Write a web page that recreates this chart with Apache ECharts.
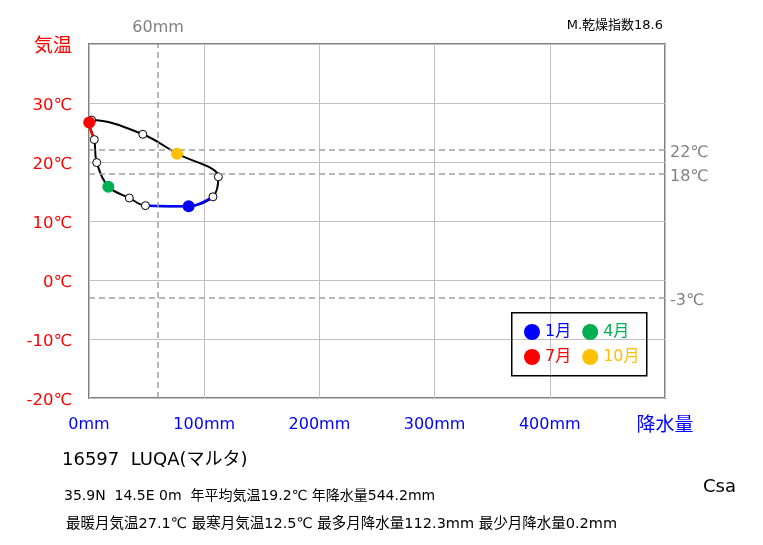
<!DOCTYPE html>
<html><head><meta charset="utf-8">
<script src="https://cdn.jsdelivr.net/npm/echarts@6/dist/echarts.min.js"></script>
<style>html,body{margin:0;padding:0;background:#fff}#c{width:763px;height:545px}</style>
</head><body><div id="c"></div>
<script>
const months = ['1月','2月','3月','4月','5月','6月','7月','8月','9月','10月','11月','12月'];
const precip = [86.5, 49.0, 35.0, 16.8, 6.7, 4.6, 0.2, 2.3, 46.7, 76.5, 112.3, 107.6];
const temp   = [12.5, 12.6, 13.9, 15.8, 19.9, 23.8, 26.7, 27.1, 24.7, 21.4, 17.5, 14.1];
const refTemps = [22, 18, -3];
const refPrecip = [60];
const keyMonths = [0, 3, 6, 9];
const keyColors = ['#0000FF', '#00B050', '#FF0000', '#FFC000'];
const winterIdx = [11, 0, 1];
const summerIdx = [5, 6, 7];
const station = '16597  LUQA(マルタ)';
const info1 = '35.9N  14.5E 0m  年平均気温19.2℃ 年降水量544.2mm';
const info2 = '最暖月気温27.1℃ 最寒月気温12.5℃ 最多月降水量112.3mm 最少月降水量0.2mm';
const aridity = 'M.乾燥指数18.6';
const climate = 'Csa';

const FONT = '"DejaVu Sans", "Noto Sans CJK JP", sans-serif';
const pt = i => [precip[i], temp[i]];
const loop = months.map((m, i) => pt(i)).concat([pt(0), pt(1)]);

const series = [];
series.push({
  type: 'line', name: 'loop', data: loop, smooth: 0.35, symbol: 'none',
  lineStyle: {color: '#000', width: 2}, z: 2, silent: true,
  markLine: {
    silent: true, symbol: 'none',
    lineStyle: {color: '#a0a0a0', type: [6, 4], width: 1.5},
    label: {position: 'end', color: '#808080', fontSize: 16, fontFamily: FONT, distance: 5},
    data: refTemps.map(t => ({yAxis: t, label: {formatter: t + '℃', offset: [0, 3]}}))
      .concat(refPrecip.map(p => ({xAxis: p, label: {formatter: p + 'mm', distance: 8}})))
  }
});
series.push({type: 'line', name: 'winter', data: winterIdx.map(pt), smooth: 0.35, symbol: 'none',
  lineStyle: {color: '#0000FF', width: 2.5}, z: 3, silent: true});
series.push({type: 'line', name: 'summer', data: summerIdx.map(pt), smooth: 0.35, symbol: 'none',
  lineStyle: {color: '#FF0000', width: 2.5}, z: 3, silent: true});
series.push({type: 'scatter', name: 'others',
  data: months.map((m, i) => i).filter(i => !keyMonths.includes(i)).map(pt),
  symbolSize: 8, itemStyle: {color: '#fff', borderColor: '#000', borderWidth: 1, opacity: 1}, z: 4});
keyMonths.forEach((mi, k) => {
  series.push({type: 'scatter', name: months[mi], data: [pt(mi)], symbolSize: 12,
    itemStyle: {color: keyColors[k], opacity: 1}, z: 5});
});

const legendItem = (mi, k) => ({name: months[mi], icon: 'circle', textStyle: {color: keyColors[k]}});

const option = {
  animation: false,
  textStyle: {fontFamily: FONT},
  grid: {left: 89, right: 98, top: 44, bottom: 147, show: true, borderColor: '#808080', borderWidth: 2},
  xAxis: {
    type: 'value', min: 0, max: 500, interval: 100,
    axisLine: {show: false}, axisTick: {show: false},
    splitLine: {lineStyle: {color: '#c0c0c0', width: 1}},
    axisLabel: {color: '#0000FF', fontSize: 16, margin: 19, fontFamily: FONT,
      formatter: v => v === 500 ? '{big|降水量}' : v + 'mm',
      rich: {big: {fontSize: 19, color: '#0000FF', fontFamily: FONT}}}
  },
  yAxis: {
    type: 'value', min: -20, max: 40, interval: 10,
    axisLine: {show: false}, axisTick: {show: false},
    splitLine: {lineStyle: {color: '#c0c0c0', width: 1}},
    axisLabel: {color: '#FF0000', fontSize: 16.5, margin: 17, fontFamily: FONT, padding: [6, 0, 0, 0],
      formatter: v => v === 40 ? '{big|気温}' : v + '℃',
      rich: {big: {fontSize: 19, color: '#FF0000', fontFamily: FONT}}}
  },
  legend: [
    {left: 519, top: 319, itemWidth: 16, itemHeight: 16, itemGap: 11, selectedMode: false,
     textStyle: {fontSize: 16, fontFamily: FONT}, data: [legendItem(0, 0), legendItem(3, 1)]},
    {left: 519, top: 344, itemWidth: 16, itemHeight: 16, itemGap: 11, selectedMode: false,
     textStyle: {fontSize: 16, fontFamily: FONT}, data: [legendItem(6, 2), legendItem(9, 3)]}
  ],
  graphic: [
    {type: 'rect', left: 511, top: 312, z: 10, silent: true,
     shape: {width: 135, height: 63}, style: {fill: 'rgba(255,255,255,0)', stroke: '#000', lineWidth: 1.5}},
    {type: 'text', left: 62, top: 451, style: {text: station, fontSize: 18, fill: '#000', fontFamily: FONT}},
    {type: 'text', left: 64, top: 489, style: {text: info1, fontSize: 14, fill: '#000', fontFamily: FONT}},
    {type: 'text', left: 66, top: 517, style: {text: info2, fontSize: 14.5, fill: '#000', fontFamily: FONT}},
    {type: 'text', left: 703, top: 478, style: {text: climate, fontSize: 18, fill: '#000', fontFamily: FONT}},
    {type: 'text', right: 100, top: 19, style: {text: aridity, fontSize: 13, fill: '#000', fontFamily: FONT}}
  ],
  series: series
};
const chart = echarts.init(document.getElementById('c'), null, {renderer: 'canvas'});
chart.setOption(option);
</script>
</body></html>
